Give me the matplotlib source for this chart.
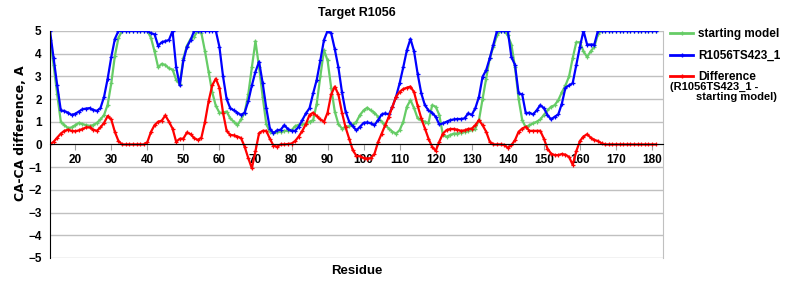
import matplotlib

matplotlib.use("Agg")
import matplotlib.pyplot as plt  # noqa: E402
from matplotlib.lines import Line2D  # noqa: E402

# residues 13..181
residues = list(range(13, 182))

model_ts423 = [
    5.0, 3.8, 2.6, 1.5, 1.47, 1.4, 1.3, 1.35, 1.45, 1.55,          # 13-22
    1.58, 1.6, 1.52, 1.48, 1.6, 2.1, 2.9, 3.85, 4.65, 5.0,         # 23-32
    5.0, 5.0, 5.0, 5.0, 5.0, 5.0, 5.0, 5.0, 4.9, 4.85,             # 33-42
    4.35, 4.5, 4.55, 4.6, 5.0, 3.4, 2.6, 3.7, 4.3, 4.6,            # 43-52
    5.0, 5.0, 5.0, 5.0, 5.0, 5.0, 5.0, 4.3, 3.0, 2.0,              # 53-62
    1.6, 1.5, 1.4, 1.3, 1.4, 1.9, 2.6, 3.2, 3.65, 2.7,             # 63-72
    1.6, 0.7, 0.5, 0.62, 0.65, 0.85, 0.68, 0.6, 0.6, 0.78,         # 73-82
    1.07, 1.37, 1.6, 2.25, 2.85, 3.7, 4.6, 5.0, 4.9, 4.2,          # 83-92
    3.4, 2.3, 1.45, 1.0, 0.8, 0.62, 0.78, 0.95, 0.97, 0.93,        # 93-102
    0.85, 1.07, 1.32, 1.37, 1.32, 1.66, 2.1, 2.7, 3.4, 4.15,       # 103-112
    4.65, 4.1, 3.1, 2.25, 1.73, 1.5, 1.4, 1.22, 0.88, 0.93,        # 113-122
    1.0, 1.07, 1.1, 1.12, 1.12, 1.15, 1.37, 1.3, 1.6, 2.1,         # 123-132
    2.98, 3.27, 3.8, 4.4, 5.0, 5.0, 5.0, 5.0, 3.85, 3.5,           # 133-142
    2.25, 2.2, 1.37, 1.4, 1.32, 1.5, 1.73, 1.6, 1.3, 1.1,          # 143-152
    1.22, 1.32, 1.8, 2.5, 2.6, 2.7, 3.5, 4.3, 5.0, 4.4,            # 153-162
    4.4, 4.4, 5.0, 5.0, 5.0, 5.0, 5.0, 5.0, 5.0, 5.0,              # 163-172
    5.0, 5.0, 5.0, 5.0, 5.0, 5.0, 5.0, 5.0, 5.0,                   # 173-181
]

starting_model = [
    4.6, 3.5, 2.2, 1.0, 0.85, 0.72, 0.75, 0.85, 0.95, 0.9,         # 13-22
    0.85, 0.82, 0.85, 0.95, 1.1, 1.3, 1.75, 2.7, 3.9, 4.7,         # 23-32
    5.0, 5.0, 5.0, 5.0, 5.0, 5.0, 5.0, 5.0, 4.7, 4.1,              # 33-42
    3.4, 3.55, 3.5, 3.35, 3.3, 2.85, 2.65, 3.8, 4.35, 4.65,        # 43-52
    4.75, 5.0, 4.9, 4.1, 3.2, 2.3, 1.7, 1.4, 1.4, 1.45,            # 53-62
    1.15, 1.0, 0.85, 1.1, 1.4, 2.2, 3.4, 4.55, 3.4, 2.1,           # 63-72
    0.9, 0.55, 0.5, 0.53, 0.57, 0.6, 0.6, 0.63, 0.8, 0.87,         # 73-82
    0.88, 0.9, 1.0, 1.07, 1.8, 3.0, 4.15, 3.7, 2.5, 1.45,          # 83-92
    0.9, 0.7, 0.78, 0.8, 0.88, 1.0, 1.3, 1.5, 1.62, 1.5,           # 93-102
    1.4, 1.22, 1.0, 0.85, 0.7, 0.56, 0.48, 0.63, 1.0, 1.66,        # 103-112
    1.95, 1.6, 1.15, 1.07, 1.0, 0.93, 1.73, 1.66, 1.3, 0.41,       # 113-122
    0.34, 0.41, 0.48, 0.48, 0.52, 0.55, 0.6, 0.63, 0.7, 1.07,      # 123-132
    2.0, 2.9, 3.8, 4.3, 4.8, 5.0, 5.0, 4.8, 4.4, 3.4,              # 133-142
    2.0, 1.07, 0.75, 0.85, 0.93, 1.0, 1.1, 1.3, 1.5, 1.66,         # 143-152
    1.73, 1.95, 2.3, 2.6, 3.0, 3.8, 4.5, 4.5, 4.1, 3.85,           # 153-162
    4.1, 4.3, 4.85, 5.0, 5.0, 5.0, 5.0, 5.0, 5.0, 5.0,             # 163-172
    5.0, 5.0, 5.0, 5.0, 5.0, 5.0, 5.0, 5.0, 5.0,                   # 173-181
]

difference = [
    0.0, 0.12, 0.3, 0.48, 0.6, 0.65, 0.6, 0.58, 0.62, 0.68,        # 13-22
    0.75, 0.75, 0.65, 0.6, 0.75, 0.95, 1.25, 1.1, 0.55, 0.15,      # 23-32
    0.0, 0.0, 0.0, 0.0, 0.0, 0.0, 0.0, 0.1, 0.55, 0.85,            # 33-42
    1.0, 1.05, 1.28, 1.0, 0.7, 0.12, 0.25, 0.26, 0.53, 0.45,       # 43-52
    0.28, 0.2, 0.3, 1.0, 1.9, 2.6, 2.9, 2.5, 1.4, 0.6,             # 53-62
    0.42, 0.4, 0.35, 0.28, -0.1, -0.6, -1.05, -0.3, 0.5, 0.6,      # 63-72
    0.6, 0.25, -0.05, -0.1, 0.0, 0.0, 0.02, 0.04, 0.15, 0.35,      # 73-82
    0.6, 0.9, 1.3, 1.4, 1.25, 1.1, 1.0, 1.4, 2.2, 2.55,            # 83-92
    2.2, 1.4, 0.75, 0.25, -0.25, -0.5, -0.52, -0.6, -0.62, -0.6,   # 93-102
    -0.42, 0.1, 0.48, 0.85, 1.22, 1.66, 2.1, 2.32, 2.44, 2.5,      # 103-112
    2.55, 2.3, 1.7, 1.15, 0.7, 0.26, -0.1, -0.28, 0.12, 0.48,      # 113-122
    0.63, 0.68, 0.68, 0.65, 0.6, 0.62, 0.68, 0.7, 0.85, 1.07,      # 123-132
    0.85, 0.56, 0.12, 0.0, 0.0, 0.0, -0.02, -0.15, -0.03, 0.19,    # 133-142
    0.56, 0.7, 0.78, 0.6, 0.6, 0.6, 0.6, 0.26, -0.18, -0.4,        # 143-152
    -0.47, -0.47, -0.42, -0.45, -0.55, -0.9, -0.3, 0.15, 0.35, 0.45,  # 153-162
    0.3, 0.2, 0.15, 0.05, 0.0, 0.0, 0.0, 0.0, 0.0, 0.0,            # 163-172
    0.0, 0.0, 0.0, 0.0, 0.0, 0.0, 0.0, 0.0, 0.0,                   # 173-181
]

x_ticks = list(range(20, 181, 10))
y_ticks = list(range(-5, 6))

GREEN = "#66cc66"
BLUE = "#0000ff"
RED = "#ff0000"
NARROW = ["Liberation Sans Narrow", "Liberation Sans", "DejaVu Sans"]
ARIAL = ["Liberation Sans", "DejaVu Sans"]

fig = plt.figure(figsize=(8, 3), dpi=100)
ax = fig.add_axes([0.0625, 0.14, 0.766, 0.757])

line_kw = dict(linewidth=1.6, marker="+", markersize=3, markeredgewidth=0.9)
ax.plot(residues, starting_model, color=GREEN, label="starting model", **line_kw)
ax.plot(residues, model_ts423, color=BLUE, label="R1056TS423_1", **line_kw)
ax.plot(residues, difference, color=RED, label="Difference", **line_kw)

ax.set_xlim(13, 183)
ax.set_ylim(-5, 5)
ax.set_yticks(y_ticks)
ax.set_xticks(x_ticks)
ax.grid(axis="y", color="#c0c0c0", linewidth=1)
ax.set_axisbelow(True)

ax.spines["bottom"].set_position(("data", 0))
ax.spines["bottom"].set_color("black")
ax.spines["left"].set_color("black")
ax.spines["top"].set_visible(False)
ax.spines["right"].set_color("#c0c0c0")
ax.tick_params(axis="x", direction="out", length=4, color="#a0a0a0", pad=3)
ax.tick_params(axis="y", length=0, pad=6)

for lbl in ax.get_xticklabels() + ax.get_yticklabels():
    lbl.set_family(NARROW)
    lbl.set_fontweight("bold")
    lbl.set_fontsize(8.5)

ax.set_title("Target R1056", family=ARIAL, fontweight="bold", fontsize=9, pad=11)
ax.set_ylabel("CA-CA difference, A", family="DejaVu Sans", fontweight="bold",
              fontsize=8.8, labelpad=0)
ax.yaxis.set_label_coords(-0.038, 0.55)
fig.text(0.4456, 0.098, "Residue", family=NARROW, fontweight="bold", fontsize=9.5,
         ha="center", va="center")

handles = [Line2D([], [], color=c, linewidth=2, marker="+", markersize=3)
           for c in (GREEN, BLUE, RED)]
fig.legend(handles, ["starting model", "R1056TS423_1", "Difference"],
           loc="upper left", bbox_to_anchor=(0.838, 0.905), frameon=False,
           prop={"family": ARIAL, "weight": "bold", "size": 8.5},
           handlelength=1.9, handletextpad=0.45, labelspacing=0.78,
           borderaxespad=0, borderpad=0)
fig.text(0.838, 0.71, "(R1056TS423_1 -", family=NARROW, fontweight="bold",
         fontsize=8, ha="left", va="center")
fig.text(0.971, 0.677, "starting model)", family=NARROW, fontweight="bold",
         fontsize=8, ha="right", va="center")

fig.savefig("out.png", dpi=100)
plt.close(fig)
